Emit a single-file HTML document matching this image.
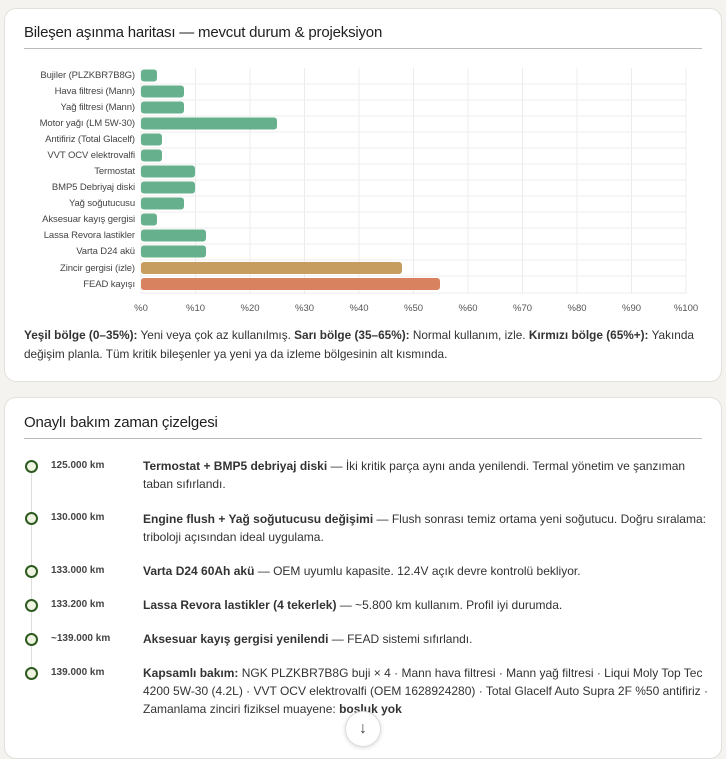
<!DOCTYPE html>
<html><head><meta charset="utf-8"><style>
body{margin:0;background:#f4f3ef;font-family:"Liberation Sans",sans-serif;color:#222;width:726px;height:748px;overflow:hidden;position:relative}
.card{position:absolute;left:4px;width:716px;background:#fff;border:1px solid #e2e0da;border-radius:12px}
.t{position:absolute;left:20px;font-size:15px;color:#1f1f1f;letter-spacing:-0.2px}
.rule{position:absolute;left:20px;width:678px;height:1px;background:#bbb}
.lbl{position:absolute;right:591px;font-size:9.5px;color:#444;text-align:right;white-space:nowrap;letter-spacing:-0.1px}
.tick{position:absolute;top:303px;font-size:9.5px;color:#555;transform:translateX(-50%)}
.leg{position:absolute;left:20px;top:326px;width:684px;font-size:11.8px;line-height:19px;color:#333}
.dot{position:absolute;left:21px;width:9px;height:9px;border:2px solid #2d5a1e;border-radius:50%;background:#eef3e2}
.km{position:absolute;left:47px;font-size:10px;font-weight:bold;color:#444}
.d{position:absolute;left:139px;width:570px;font-size:12px;line-height:18px;color:#333}
</style></head><body>
<div class="card" style="top:8px;height:372px"></div>
<div class="t" style="left:24px;top:24px">Bileşen aşınma haritası — mevcut durum &amp; projeksiyon</div>
<div class="rule" style="left:24px;top:48px"></div>
<svg style="position:absolute;left:0;top:0" width="726" height="300">
<g stroke="#ececec" stroke-width="1">
<line x1="141" y1="68" x2="141" y2="294"/><line x1="195.5" y1="68" x2="195.5" y2="294"/><line x1="250" y1="68" x2="250" y2="294"/><line x1="304.5" y1="68" x2="304.5" y2="294"/><line x1="359" y1="68" x2="359" y2="294"/><line x1="413.5" y1="68" x2="413.5" y2="294"/><line x1="468" y1="68" x2="468" y2="294"/><line x1="522.5" y1="68" x2="522.5" y2="294"/><line x1="577" y1="68" x2="577" y2="294"/><line x1="631.5" y1="68" x2="631.5" y2="294"/><line x1="686" y1="68" x2="686" y2="294"/>
<line x1="141" y1="84" x2="686" y2="84"/><line x1="141" y1="100" x2="686" y2="100"/><line x1="141" y1="116" x2="686" y2="116"/><line x1="141" y1="132" x2="686" y2="132"/><line x1="141" y1="148" x2="686" y2="148"/><line x1="141" y1="164" x2="686" y2="164"/><line x1="141" y1="180" x2="686" y2="180"/><line x1="141" y1="196" x2="686" y2="196"/><line x1="141" y1="212" x2="686" y2="212"/><line x1="141" y1="228" x2="686" y2="228"/><line x1="141" y1="244" x2="686" y2="244"/><line x1="141" y1="260" x2="686" y2="260"/><line x1="141" y1="276" x2="686" y2="276"/><line x1="141" y1="293" x2="686" y2="293"/>
</g>
<g fill="#67b08e">
<rect x="141" y="69.5" width="16" height="12" rx="3"/>
<rect x="141" y="85.5" width="43" height="12" rx="3"/>
<rect x="141" y="101.5" width="43" height="12" rx="3"/>
<rect x="141" y="117.5" width="136" height="12" rx="3"/>
<rect x="141" y="133.5" width="21" height="12" rx="3"/>
<rect x="141" y="149.5" width="21" height="12" rx="3"/>
<rect x="141" y="165.5" width="54" height="12" rx="3"/>
<rect x="141" y="181.5" width="54" height="12" rx="3"/>
<rect x="141" y="197.5" width="43" height="12" rx="3"/>
<rect x="141" y="213.5" width="16" height="12" rx="3"/>
<rect x="141" y="229.5" width="65" height="12" rx="3"/>
<rect x="141" y="245.5" width="65" height="12" rx="3"/>
</g>
<rect x="141" y="262" width="261" height="12" rx="3" fill="#c69d5f"/>
<rect x="141" y="278" width="299" height="12" rx="3" fill="#d88260"/>
</svg>
<div class="lbl" style="top:70px">Bujiler (PLZKBR7B8G)</div>
<div class="lbl" style="top:86px">Hava filtresi (Mann)</div>
<div class="lbl" style="top:102px">Yağ filtresi (Mann)</div>
<div class="lbl" style="top:118px">Motor yağı (LM 5W-30)</div>
<div class="lbl" style="top:134px">Antifiriz (Total Glacelf)</div>
<div class="lbl" style="top:150px">VVT OCV elektrovalfi</div>
<div class="lbl" style="top:166px">Termostat</div>
<div class="lbl" style="top:182px">BMP5 Debriyaj diski</div>
<div class="lbl" style="top:198px">Yağ soğutucusu</div>
<div class="lbl" style="top:214px">Aksesuar kayış gergisi</div>
<div class="lbl" style="top:230px">Lassa Revora lastikler</div>
<div class="lbl" style="top:246px">Varta D24 akü</div>
<div class="lbl" style="top:263px">Zincir gergisi (izle)</div>
<div class="lbl" style="top:279px">FEAD kayışı</div>
<div class="tick" style="left:141px">%0</div><div class="tick" style="left:195.5px">%10</div><div class="tick" style="left:250px">%20</div><div class="tick" style="left:304.5px">%30</div><div class="tick" style="left:359px">%40</div><div class="tick" style="left:413.5px">%50</div><div class="tick" style="left:468px">%60</div><div class="tick" style="left:522.5px">%70</div><div class="tick" style="left:577px">%80</div><div class="tick" style="left:631.5px">%90</div><div class="tick" style="left:686px">%100</div>
<div class="leg" style="left:24px"><b>Yeşil bölge (0–35%):</b> Yeni veya çok az kullanılmış. <b>Sarı bölge (35–65%):</b> Normal kullanım, izle. <b>Kırmızı bölge (65%+):</b> Yakında değişim planla. Tüm kritik bileşenler ya yeni ya da izleme bölgesinin alt kısmında.</div>

<div class="card" style="top:397px;height:360px"></div>
<div class="t" style="left:24px;top:414px">Onaylı bakım zaman çizelgesi</div>
<div class="rule" style="left:24px;top:438px"></div>
<div style="position:absolute;left:31px;top:466px;width:1px;height:210px;background:#ddd"></div>
<div class="dot" style="left:25px;top:460px"></div><div class="km" style="left:51px;top:460px">125.000 km</div>
<div class="d" style="left:143px;top:457px"><b>Termostat + BMP5 debriyaj diski</b> — İki kritik parça aynı anda yenilendi. Termal yönetim ve şanzıman taban sıfırlandı.</div>
<div class="dot" style="left:25px;top:512px"></div><div class="km" style="left:51px;top:512px">130.000 km</div>
<div class="d" style="left:143px;top:510px"><b>Engine flush + Yağ soğutucusu değişimi</b> — Flush sonrası temiz ortama yeni soğutucu. Doğru sıralama: triboloji açısından ideal uygulama.</div>
<div class="dot" style="left:25px;top:565px"></div><div class="km" style="left:51px;top:565px">133.000 km</div>
<div class="d" style="left:143px;top:562px"><b>Varta D24 60Ah akü</b> — OEM uyumlu kapasite. 12.4V açık devre kontrolü bekliyor.</div>
<div class="dot" style="left:25px;top:599px"></div><div class="km" style="left:51px;top:599px">133.200 km</div>
<div class="d" style="left:143px;top:596px"><b>Lassa Revora lastikler (4 tekerlek)</b> — ~5.800 km kullanım. Profil iyi durumda.</div>
<div class="dot" style="left:25px;top:633px"></div><div class="km" style="left:51px;top:633px">~139.000 km</div>
<div class="d" style="left:143px;top:630px"><b>Aksesuar kayış gergisi yenilendi</b> — FEAD sistemi sıfırlandı.</div>
<div class="dot" style="left:25px;top:667px"></div><div class="km" style="left:51px;top:667px">139.000 km</div>
<div class="d" style="left:143px;top:664px"><b>Kapsamlı bakım:</b> NGK PLZKBR7B8G buji × 4 · Mann hava filtresi · Mann yağ filtresi · Liqui Moly Top Tec 4200 5W-30 (4.2L) · VVT OCV elektrovalfi (OEM 1628924280) · Total Glacelf Auto Supra 2F %50 antifiriz · Zamanlama zinciri fiziksel muayene: <b>boşluk yok</b></div>
<div style="position:absolute;left:345px;top:711px;width:34px;height:34px;border-radius:50%;background:#fff;border:1px solid #ddd;box-shadow:0 1px 4px rgba(0,0,0,.15);text-align:center;line-height:34px;font-size:16px;color:#444">↓</div>
</body></html>
